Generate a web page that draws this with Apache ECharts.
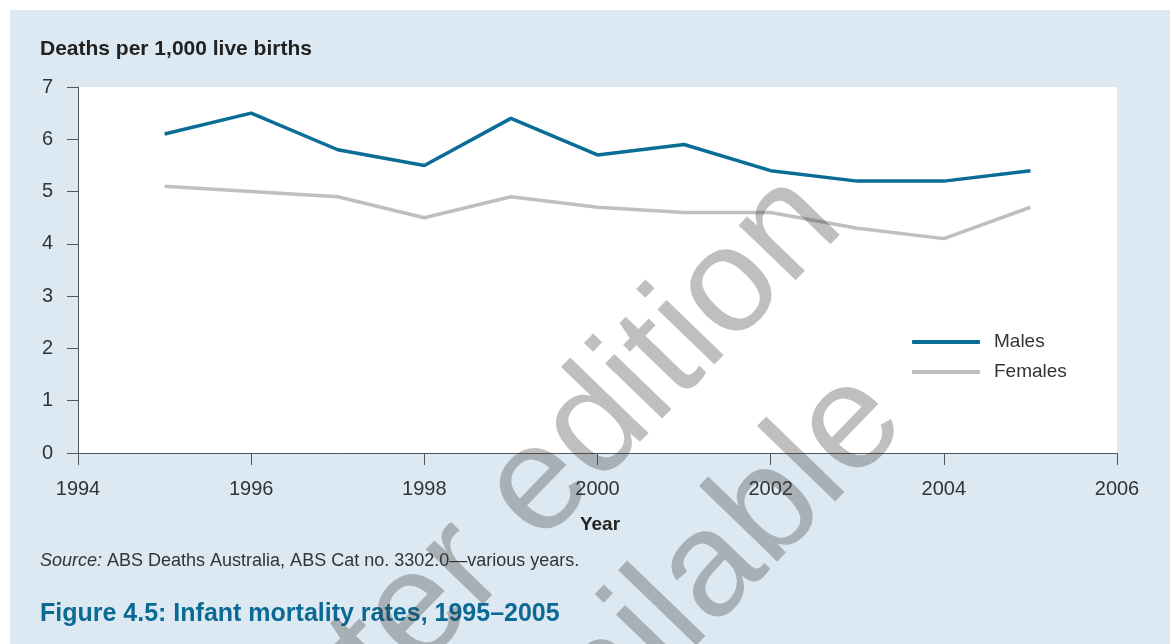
<!DOCTYPE html>
<html>
<head>
<meta charset="utf-8">
<script src="https://cdn.jsdelivr.net/npm/echarts@6/dist/echarts.min.js"></script>
<style>
html,body{margin:0;padding:0;background:#fff;}
#bg{position:absolute;left:10px;top:10px;width:1160px;height:634px;background:#dde9f2;}
#chart{position:absolute;left:0;top:0;width:1170px;height:644px;}
</style>
</head>
<body>
<div id="bg"></div>
<div id="chart"></div>
<script>
const years = [1995, 1996, 1997, 1998, 1999, 2000, 2001, 2002, 2003, 2004, 2005];
const males = [6.1, 6.5, 5.8, 5.5, 6.4, 5.7, 5.9, 5.4, 5.2, 5.2, 5.4];
const females = [5.1, 5.0, 4.9, 4.5, 4.9, 4.7, 4.6, 4.6, 4.3, 4.1, 4.7];
const seriesNames = ['Males', 'Females'];
const yAxisTitle = 'Deaths per 1,000 live births';
const xAxisTitle = 'Year';
const sourceLabel = 'Source:';
const sourceText = ' ABS Deaths Australia, ABS Cat no. 3302.0\u2014various years.';
const figureTitle = 'Figure 4.5: Infant mortality rates, 1995\u20132005';
const watermark = ['Later edition', 'available'];

const FONT = '"Liberation Sans", Arial, sans-serif';
const chart = echarts.init(document.getElementById('chart'), null, {renderer: 'canvas'});

const pair = (arr) => years.map((y, i) => [y, arr[i]]);

chart.setOption({
  backgroundColor: 'transparent',
  animation: false,
  textStyle: {fontFamily: FONT},
  grid: {
    left: 78, right: 53, top: 87, bottom: 191,
    show: true, backgroundColor: '#ffffff', borderWidth: 0
  },
  xAxis: {
    type: 'value', min: 1994, max: 2006, interval: 2,
    axisLine: {show: true, lineStyle: {color: '#555', width: 1}},
    axisTick: {show: true, length: 12, lineStyle: {color: '#555', width: 1}},
    axisLabel: {color: '#333', fontSize: 20, margin: 26, fontFamily: FONT, formatter: v => String(v)},
    splitLine: {show: false}
  },
  yAxis: {
    type: 'value', min: 0, max: 7, interval: 1,
    axisLine: {show: true, lineStyle: {color: '#555', width: 1}},
    axisTick: {show: true, length: 11, lineStyle: {color: '#555', width: 1}},
    axisLabel: {color: '#333', fontSize: 20, margin: 25, fontFamily: FONT},
    splitLine: {show: false}
  },
  legend: {
    orient: 'vertical', left: 912, top: 331, padding: 0,
    icon: 'roundRect',
    itemWidth: 68, itemHeight: 4, itemGap: 8,
    data: seriesNames,
    textStyle: {color: '#333', fontSize: 19, fontFamily: FONT, padding: [0, 0, 0, 9], lineHeight: 22}
  },
  series: [
    {
      name: seriesNames[0], type: 'line', data: pair(males),
      symbol: 'none', lineStyle: {color: '#0a6d95', width: 3.5}, itemStyle: {color: '#0a6d95'}, z: 3
    },
    {
      name: seriesNames[1], type: 'line', data: pair(females),
      symbol: 'none', lineStyle: {color: '#bfbfc3', width: 3.5}, itemStyle: {color: '#bfbfc3'}, z: 2
    }
  ],
  graphic: [
    {type: 'text', left: 40, top: 39, z: 10,
     style: {text: yAxisTitle, fill: '#222', font: 'bold 21px ' + FONT}},
    {type: 'text', x: 600, y: 525, z: 10,
     style: {text: xAxisTitle, fill: '#222', font: 'bold 19px ' + FONT, textAlign: 'center', textVerticalAlign: 'middle'}},
    {type: 'text', left: 40, top: 552, z: 10,
     style: {
       text: '{i|' + sourceLabel + '}{n|' + sourceText + '}',
       rich: {
         i: {font: 'italic 18px ' + FONT, fill: '#333'},
         n: {font: '18px ' + FONT, fill: '#333'}
       }
     }},
    {type: 'text', left: 40, top: 602, z: 10,
     style: {text: figureTitle, fill: '#0b6a94', font: 'bold 25px ' + FONT}},
    {type: 'text', x: 530, y: 496, rotation: 46 * Math.PI / 180, z: 50,
     style: {text: watermark[0], fill: 'rgba(55,55,55,0.32)', font: '150px ' + FONT, textAlign: 'center', textVerticalAlign: 'middle'}},
    {type: 'text', x: 674, y: 609, rotation: 46 * Math.PI / 180, z: 50,
     style: {text: watermark[1], fill: 'rgba(55,55,55,0.32)', font: '150px ' + FONT, textAlign: 'center', textVerticalAlign: 'middle'}}
  ]
});
</script>
</body>
</html>
